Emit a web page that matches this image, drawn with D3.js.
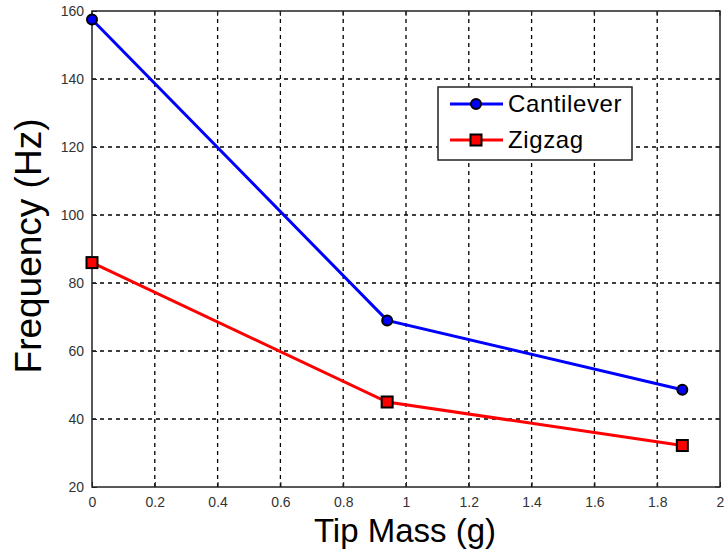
<!DOCTYPE html>
<html><head><meta charset="utf-8">
<script src="https://cdn.jsdelivr.net/npm/d3@7"></script>
<style>body{margin:0;background:#fff}</style>
</head><body>
<svg id="c" width="725" height="552"></svg>
<script>
const massX = [0, 0.94, 1.88];
const cantilever = [157.5, 69, 48.6];
const zigzag = [86, 45, 32.2];
const xTicks = [0,0.2,0.4,0.6,0.8,1,1.2,1.4,1.6,1.8,2];
const yTicks = [20,40,60,80,100,120,140,160];
const seriesNames = ["Cantilever","Zigzag"];

const svg = d3.select("#c");
const L=92,R=720,T=11,B=487;
const x = d3.scaleLinear().domain([0,2]).range([L,R]);
const y = d3.scaleLinear().domain([20,160]).range([B,T]);
const font = "Liberation Sans, Arial, sans-serif";

// grid
const g = svg.append("g");
g.selectAll(".vx").data(xTicks.slice(1,-1)).enter().append("line")
  .attr("x1",d=>x(d)).attr("x2",d=>x(d)).attr("y1",T).attr("y2",B)
  .attr("stroke","#000").attr("stroke-width",1.3).attr("stroke-dasharray","4,4");
g.selectAll(".hy").data(yTicks.slice(1,-1)).enter().append("line")
  .attr("x1",L).attr("x2",R).attr("y1",d=>y(d)).attr("y2",d=>y(d))
  .attr("stroke","#000").attr("stroke-width",1.3).attr("stroke-dasharray","4,4");

// axes
const xa = svg.append("g").attr("transform",`translate(0,${B})`)
  .call(d3.axisBottom(x).tickValues(xTicks).tickSize(-5).tickPadding(10).tickFormat(d3.format("~g")));
const ya = svg.append("g").attr("transform",`translate(${L},0)`)
  .call(d3.axisLeft(y).tickValues(yTicks).tickSize(-5).tickPadding(8));
[xa,ya].forEach(a=>{
  a.select(".domain").remove();
  a.selectAll("line").attr("stroke","#222");
  a.selectAll("text").attr("font-family",font).attr("font-size",14).attr("fill","#333");
});
// right ticks and top ticks
svg.selectAll(".rt").data(yTicks).enter().append("line")
  .attr("x1",R).attr("x2",R-5).attr("y1",d=>y(d)).attr("y2",d=>y(d)).attr("stroke","#222");
svg.selectAll(".tt").data(xTicks).enter().append("line")
  .attr("y1",T).attr("y2",T+5).attr("x1",d=>x(d)).attr("x2",d=>x(d)).attr("stroke","#222");
// frame
svg.append("rect").attr("x",L).attr("y",T).attr("width",R-L).attr("height",B-T)
  .attr("fill","none").attr("stroke","#222").attr("stroke-width",1.5);

// lines
const line = d3.line().x((d,i)=>x(massX[i])).y(d=>y(d));
svg.append("path").datum(cantilever).attr("d",line).attr("fill","none").attr("stroke","#0000ff").attr("stroke-width",3);
svg.append("path").datum(zigzag).attr("d",line).attr("fill","none").attr("stroke","#ff0000").attr("stroke-width",3);
svg.selectAll(".cm").data(cantilever).enter().append("circle")
  .attr("cx",(d,i)=>x(massX[i])).attr("cy",d=>y(d)).attr("r",5)
  .attr("fill","#0000ff").attr("stroke","#000").attr("stroke-width",2);
svg.selectAll(".zm").data(zigzag).enter().append("rect")
  .attr("x",(d,i)=>x(massX[i])-5.5).attr("y",d=>y(d)-5.5).attr("width",11).attr("height",11)
  .attr("fill","#ff0000").attr("stroke","#000").attr("stroke-width",2);

// legend
const lg = svg.append("g");
lg.append("rect").attr("x",438).attr("y",87).attr("width",194).attr("height",73)
  .attr("fill","#fff").attr("stroke","#222").attr("stroke-width",1.5);
const colors=["#0000ff","#ff0000"];
seriesNames.forEach((n,i)=>{
  const cy = 104 + i*36;
  lg.append("line").attr("x1",450).attr("x2",503).attr("y1",cy).attr("y2",cy).attr("stroke",colors[i]).attr("stroke-width",3);
  if(i===0) lg.append("circle").attr("cx",476).attr("cy",cy).attr("r",5).attr("fill",colors[i]).attr("stroke","#000").attr("stroke-width",2);
  else lg.append("rect").attr("x",470.5).attr("y",cy-5.5).attr("width",11).attr("height",11).attr("fill",colors[i]).attr("stroke","#000").attr("stroke-width",2);
  lg.append("text").attr("x",508).attr("y",cy+8).text(n).attr("font-family",font).attr("font-size",24)
    .attr("letter-spacing",0.6).attr("fill","#000");
});

// axis titles
svg.append("text").attr("x",405).attr("y",542).attr("text-anchor","middle")
  .attr("font-family",font).attr("font-size",33).text("Tip Mass (g)");
svg.append("text").attr("transform",`translate(41,246) rotate(-90)`).attr("text-anchor","middle")
  .attr("font-family",font).attr("font-size",37).text("Frequency (Hz)");
</script>
</body></html>
